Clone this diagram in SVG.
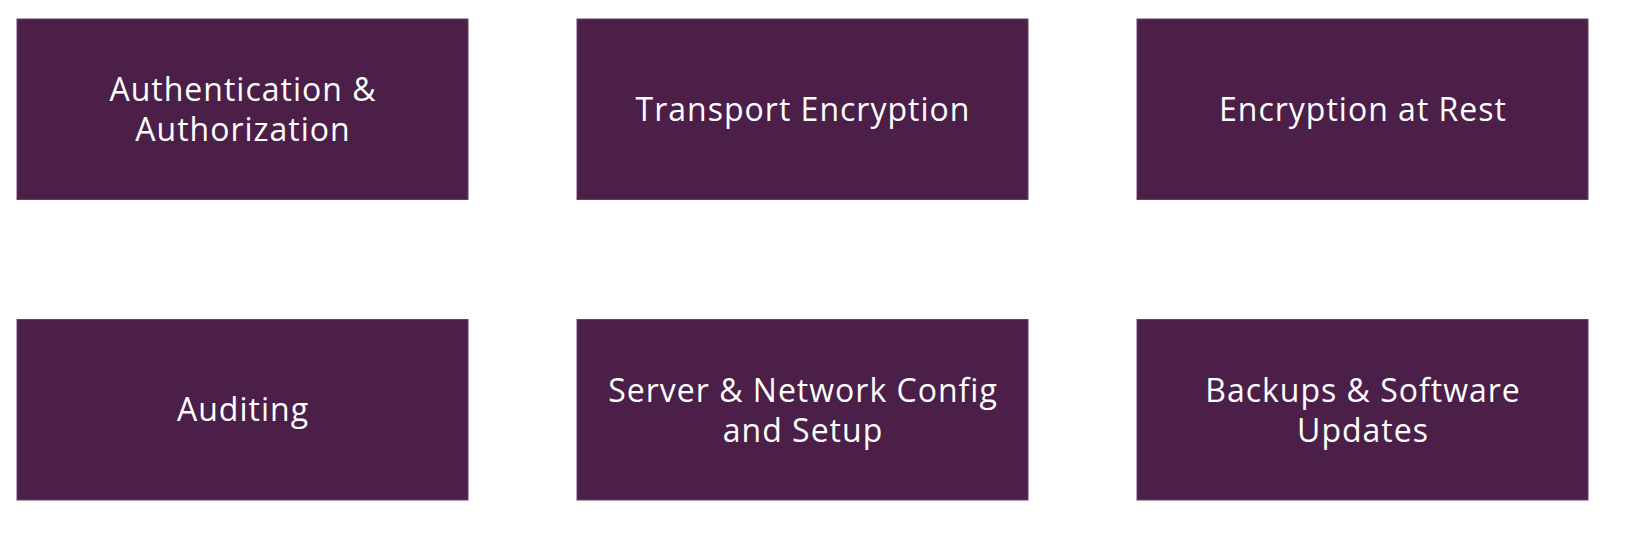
<svg xmlns="http://www.w3.org/2000/svg" width="1639" height="535" viewBox="0 0 1639 535">
<style>
.box{fill:#4b1f48;stroke:#6a3f66;stroke-width:1}
.lbl{fill:#ffffff;font-family:"Open Sans","Noto Sans",sans-serif;font-size:32px;font-weight:400;letter-spacing:1px;text-anchor:middle;font-variant-ligatures:none}
</style>
<rect width="1639" height="535" fill="#ffffff"/>
<g id="connectors"></g>
<g id="n1"><rect class="box" x="17" y="19" width="451" height="180.5"/><text class="lbl" x="243" y="100.5">Authentication &amp;</text><text class="lbl" x="243" y="140.5">Authorization</text></g>
<g id="n2"><rect class="box" x="577" y="19" width="451" height="180.5"/><text class="lbl" x="803" y="120.5">Transport Encryption</text></g>
<g id="n3"><rect class="box" x="1137" y="19" width="451" height="180.5"/><text class="lbl" x="1363" y="120.5">Encryption at Rest</text></g>
<g id="n4"><rect class="box" x="17" y="319.5" width="451" height="180.5"/><text class="lbl" x="243" y="421">Auditing</text></g>
<g id="n5"><rect class="box" x="577" y="319.5" width="451" height="180.5"/><text class="lbl" x="803" y="401.5">Server &amp; Network Config</text><text class="lbl" x="803" y="441.5">and Setup</text></g>
<g id="n6"><rect class="box" x="1137" y="319.5" width="451" height="180.5"/><text class="lbl" x="1363" y="401.5">Backups &amp; Software</text><text class="lbl" x="1363" y="441.5">Updates</text></g>
</svg>
